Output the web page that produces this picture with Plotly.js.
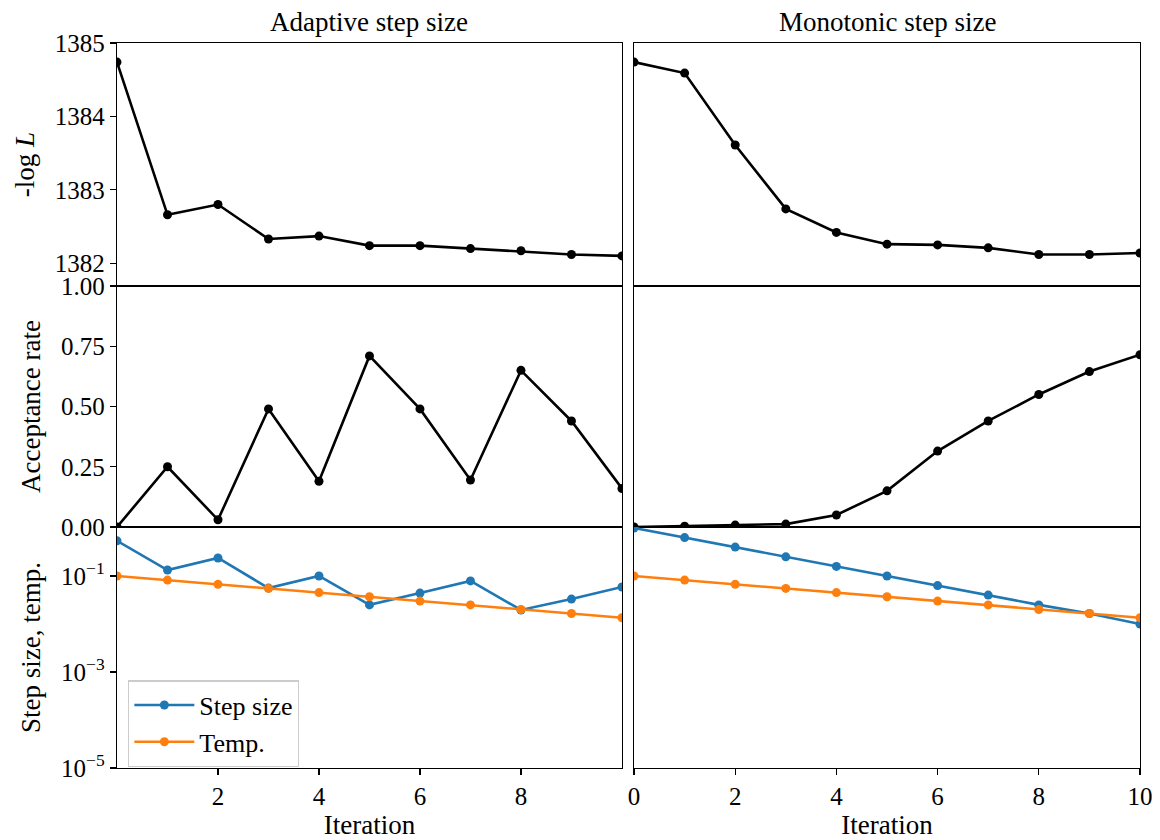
<!DOCTYPE html>
<html>
<head>
<meta charset="utf-8">
<script src="https://cdn.plot.ly/plotly-3.0.1.min.js"></script>
<style>html,body{margin:0;padding:0;background:#fff;}#chart{width:1160px;height:840px;}</style>
</head>
<body>
<div id="chart"></div>
<script>
const iterations = [0, 1, 2, 3, 4, 5, 6, 7, 8, 9, 10];
const adaptiveNegLogL = [1384.74, 1382.66, 1382.80, 1382.33, 1382.37, 1382.24, 1382.24, 1382.20, 1382.17, 1382.12, 1382.10];
const monotonicNegLogL = [1384.74, 1384.59, 1383.61, 1382.74, 1382.42, 1382.26, 1382.25, 1382.21, 1382.12, 1382.12, 1382.14];
const adaptiveAccept = [0.0, 0.25, 0.03, 0.49, 0.19, 0.71, 0.49, 0.195, 0.65, 0.44, 0.16];
const monotonicAccept = [0.0, 0.003, 0.008, 0.012, 0.05, 0.15, 0.315, 0.44, 0.55, 0.645, 0.715];
const adaptiveStep = [0.54, 0.133, 0.237, 0.056, 0.1, 0.025, 0.044, 0.079, 0.0196, 0.033, 0.059];
const monotonicStep = [1.0, 0.63, 0.40, 0.25, 0.158, 0.10, 0.063, 0.040, 0.025, 0.0165, 0.010];
const adaptiveTemp = [0.1, 0.082, 0.067, 0.055, 0.045, 0.037, 0.030, 0.025, 0.020, 0.0165, 0.0135];
const monotonicTemp = [0.1, 0.082, 0.067, 0.055, 0.045, 0.037, 0.030, 0.025, 0.020, 0.0165, 0.0135];
const colTitles = ["Adaptive step size", "Monotonic step size"];
const logTickVals = [1e-5, 1e-3, 1e-1];
const logTickText = ["10<sup>−5</sup>", "10<sup>−3</sup>", "10<sup>−1</sup>"];

const FONT = "Liberation Serif, Times New Roman, serif";
const BLUE = "#1f77b4", ORANGE = "#ff7f0e";
const TITLE_SIZE = 27;

function tr(x, y, xa, ya, color, name, showleg) {
  return {x: x, y: y, xaxis: xa, yaxis: ya, type: "scatter", mode: "lines+markers",
    name: name, showlegend: !!showleg, legendgroup: name || undefined,
    line: {color: color, width: 2.6}, marker: {color: color, size: 9}};
}

const data = [
  tr(iterations, adaptiveNegLogL, "x", "y", "black"),
  tr(iterations, monotonicNegLogL, "x2", "y2", "black"),
  tr(iterations, adaptiveAccept, "x3", "y3", "black"),
  tr(iterations, monotonicAccept, "x4", "y4", "black"),
  tr(iterations, adaptiveStep, "x5", "y5", BLUE, "Step size", true),
  tr(iterations, adaptiveTemp, "x5", "y5", ORANGE, "Temp.", true),
  tr(iterations, monotonicStep, "x6", "y6", BLUE, "Step size", false),
  tr(iterations, monotonicTemp, "x6", "y6", ORANGE, "Temp.", false)
];

const L = [0, 0.4936], R = [0.5054, 1];
const R1 = [0.6648, 1], R2 = [0.3324, 0.6648], R3 = [0, 0.3324];

function xax(dom, anchor, opts) {
  return Object.assign({domain: dom, anchor: anchor, range: [0, 10], showline: true, mirror: true,
    linecolor: "black", linewidth: 1.3, showgrid: false, zeroline: false,
    ticks: "", showticklabels: false, tickfont: {family: FONT, size: 25, color: "black"}}, opts || {});
}
function yax(dom, anchor, opts) {
  return Object.assign({domain: dom, anchor: anchor, showline: true, mirror: true,
    linecolor: "black", linewidth: 1.3, showgrid: false, zeroline: false,
    ticks: "", showticklabels: false, tickfont: {family: FONT, size: 25, color: "black"}}, opts || {});
}
const yTickOpts = {ticks: "outside", ticklen: 6, tickwidth: 1.3, tickcolor: "black", showticklabels: true};
const xTickOpts = {ticks: "outside", ticklen: 6, tickwidth: 1.3, tickcolor: "black", showticklabels: true};
const xTitle = {text: "Iteration", font: {family: FONT, size: TITLE_SIZE, color: "black"}, standoff: 6};
function yTitle(t) { return {text: t, font: {family: FONT, size: TITLE_SIZE, color: "black"}, standoff: 12}; }

const layout = {
  width: 1160, height: 840,
  paper_bgcolor: "white", plot_bgcolor: "white",
  margin: {l: 117, r: 20, t: 43, b: 72},
  font: {family: FONT, size: 25, color: "black"},
  showlegend: true,
  legend: {x: 0.0108, y: 0.121, xanchor: "left", yanchor: "top", bgcolor: "white",
    bordercolor: "#cccccc", borderwidth: 1.3, font: {family: FONT, size: 26, color: "black"},
    tracegroupgap: 0, itemwidth: 60},
  xaxis: xax(L, "y"),
  xaxis2: xax(R, "y2"),
  xaxis3: xax(L, "y3"),
  xaxis4: xax(R, "y4"),
  xaxis5: xax(L, "y5", Object.assign({}, xTickOpts, {tickvals: [2, 4, 6, 8], title: xTitle})),
  xaxis6: xax(R, "y6", Object.assign({}, xTickOpts, {tickvals: [0, 2, 4, 6, 8, 10], title: xTitle})),
  yaxis: yax(R1, "x", Object.assign({}, yTickOpts, {range: [1381.69, 1385], tickvals: [1382, 1383, 1384, 1385],
    title: yTitle("-log <i>L</i>")})),
  yaxis2: yax(R1, "x2", {range: [1381.69, 1385]}),
  yaxis3: yax(R2, "x3", Object.assign({}, yTickOpts, {range: [0, 1], tickvals: [0, 0.25, 0.5, 0.75, 1], tickformat: ".2f",
    title: yTitle("Acceptance rate")})),
  yaxis4: yax(R2, "x4", {range: [0, 1]}),
  yaxis5: yax(R3, "x5", Object.assign({}, yTickOpts, {type: "log", range: [-5, 0.02], tickvals: logTickVals, ticktext: logTickText,
    title: yTitle("Step size, temp.")})),
  yaxis6: yax(R3, "x6", {type: "log", range: [-5, 0.02]}),
  annotations: [
    {text: colTitles[0], xref: "paper", yref: "paper", x: (L[0] + L[1]) / 2, y: 1, xanchor: "center", yanchor: "bottom",
      yshift: 4, showarrow: false, font: {family: FONT, size: TITLE_SIZE, color: "black"}},
    {text: colTitles[1], xref: "paper", yref: "paper", x: (R[0] + R[1]) / 2, y: 1, xanchor: "center", yanchor: "bottom",
      yshift: 4, showarrow: false, font: {family: FONT, size: TITLE_SIZE, color: "black"}}
  ]
};

Plotly.newPlot("chart", data, layout, {staticPlot: true, displayModeBar: false});
</script>
</body>
</html>
